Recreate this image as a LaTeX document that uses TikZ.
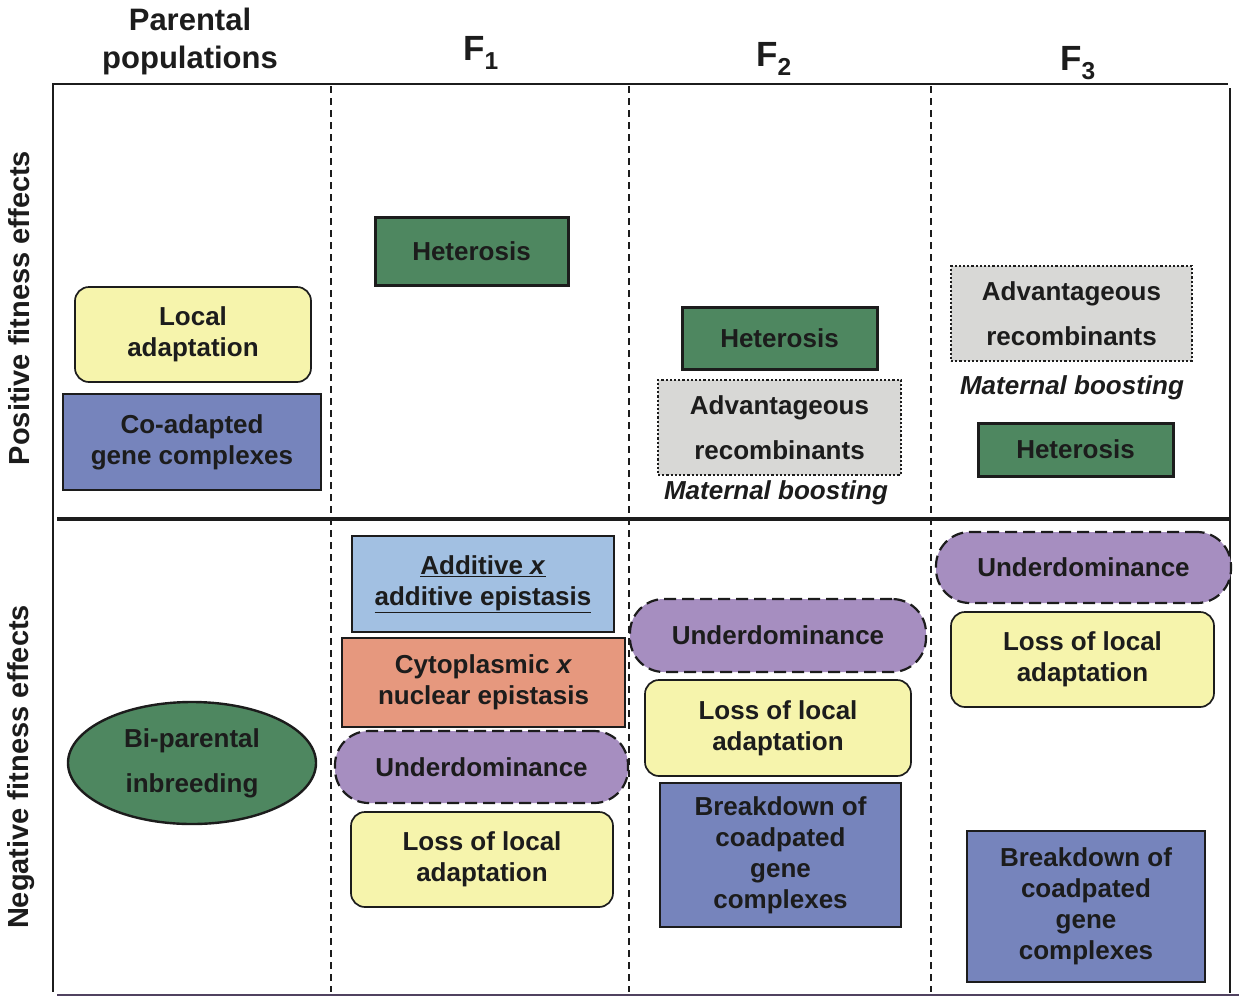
\documentclass[tikz,border=0pt]{standalone}
\usepackage{fontspec}
\setmainfont{Liberation Sans}
\usetikzlibrary{shapes.geometric}
\definecolor{grn}{RGB}{78,135,96}
\definecolor{yel}{RGB}{246,244,172}
\definecolor{blu}{RGB}{118,132,188}
\definecolor{lblu}{RGB}{162,192,226}
\definecolor{salm}{RGB}{230,152,126}
\definecolor{purp}{RGB}{166,142,192}
\definecolor{gry}{RGB}{216,216,214}
\definecolor{ink}{RGB}{28,28,28}
\definecolor{botline}{RGB}{80,66,96}
\begin{document}
\begin{tikzpicture}[x=1pt,y=-1pt,
  sz/.style 2 args={minimum width=#1pt,minimum height=#2pt},
  box/.style={draw=ink, line width=2.4pt, inner sep=0pt, align=center,
    font=\bfseries\fontsize{26}{31}\selectfont, text=ink},
  sq/.style={box, rectangle},
  wide/.style={font=\bfseries\fontsize{26}{45}\selectfont},
  rnd/.style={box, rectangle, rounded corners=14pt, line width=1.7pt, fill=yel},
  pill/.style={box, rectangle, rounded corners=34pt, dash pattern=on 12pt off 6pt, line width=2.2pt, fill=purp},
  dotbox/.style={box, rectangle, dash pattern=on 2.2pt off 2pt, line width=2.8pt, fill=gry},
  hdr/.style={inner sep=0pt, align=center, font=\bfseries\fontsize{31}{38}\selectfont, text=ink},
  gen/.style={inner sep=0pt, font=\bfseries\fontsize{35}{40}\selectfont, text=ink},
  side/.style={inner sep=0pt, rotate=90, font=\bfseries\fontsize{29}{34}\selectfont, text=ink},
  mb/.style={inner sep=0pt, font=\bfseries\itshape\fontsize{26}{31}\selectfont, text=ink},
  frame/.style={draw=ink, line width=2.6pt},
  sep/.style={draw=ink, line width=1.4pt, dash pattern=on 7pt off 5pt}
]
\useasboundingbox (0,0) rectangle (1239,997);
\fill[white] (0,0) rectangle (1239,997);

% frame
\coordinate (tl) at (52,84);
\coordinate (tr) at (1228,84);
\draw[frame] (tl) -- (tr);
\draw[frame] (53,84) -- (53,992);
\draw[frame] (1230,88) -- (1230,993);
\draw[draw=ink, line width=4pt] (57,519) -- (1229,519);
\draw[draw=botline, line width=2pt] (57,995) -- (1239,995);
\draw[sep] (331,86) -- (331,992);
\draw[sep] (629,86) -- (629,992);
\draw[sep] (931,86) -- (931,992);

% headers
\node[hdr] (hp) at (190,41) {Parental\\populations};
\node[gen] (h1) at (481,53) {F\textsubscript{1}};
\node[gen] (h2) at (774,59) {F\textsubscript{2}};
\node[gen] (h3) at (1078,63) {F\textsubscript{3}};
\node[side] (pos) at (19,308) {Positive fitness effects};
\node[side] (neg) at (21,767) {Negative fitness effects};

% parental
\node[rnd, sz={236}{95}] (la) at (193,334.5) {Local\\adaptation};
\node[sq, fill=blu, sz={258}{96}] (cg) at (192,442) {Co-adapted\\gene complexes};
\node[box, ellipse, fill=grn, sz={248}{122}, wide] (bi) at (192,763) {Bi-parental\\inbreeding};

% F1
\node[sq, fill=grn, line width=3pt, sz={193}{68}] (het1) at (471.5,251) {Heterosis};
\node[sq, fill=lblu, line width=2pt, sz={262}{96}] (add1) at (483,584) {\underline{Additive \textit{x}}\\\underline{additive epistasis}};
\node[sq, fill=salm, line width=2pt, sz={283}{89}] (cyt1) at (483.5,682.5) {Cytoplasmic \textit{x}\\nuclear epistasis};
\node[pill, sz={293}{72}] (und1) at (481.5,767) {Underdominance};
\node[rnd, sz={262}{95}] (los1) at (482,859.5) {Loss of local\\adaptation};

% F2
\node[sq, fill=grn, line width=3pt, sz={195}{62}] (het2) at (779.5,338) {Heterosis};
\node[dotbox, sz={243}{95}, wide] (adv2) at (779.5,427.5) {Advantageous\\recombinants};
\node[mb] (mat2) at (776,493) {Maternal boosting};
\node[pill, sz={296}{73}] (und2) at (778,635.5) {Underdominance};
\node[rnd, sz={266}{96}] (los2) at (778,728) {Loss of local\\adaptation};
\node[sq, fill=blu, sz={241}{144}] (brk2) at (780.5,855) {Breakdown of\\coadpated\\gene\\complexes};

% F3
\node[dotbox, sz={241}{95}, wide] (adv3) at (1071.5,313.5) {Advantageous\\recombinants};
\node[mb] (mat3) at (1072,388) {Maternal boosting};
\node[sq, fill=grn, line width=3pt, sz={195}{53}] (het3) at (1075.5,449.5) {Heterosis};
\node[pill, sz={295}{71}] (und3) at (1083.5,567.5) {Underdominance};
\node[rnd, sz={263}{95}] (los3) at (1082.5,659.5) {Loss of local\\adaptation};
\node[sq, fill=blu, sz={238}{151}] (brk3) at (1086,906.5) {Breakdown of\\coadpated\\gene\\complexes};
\end{tikzpicture}
\end{document}
